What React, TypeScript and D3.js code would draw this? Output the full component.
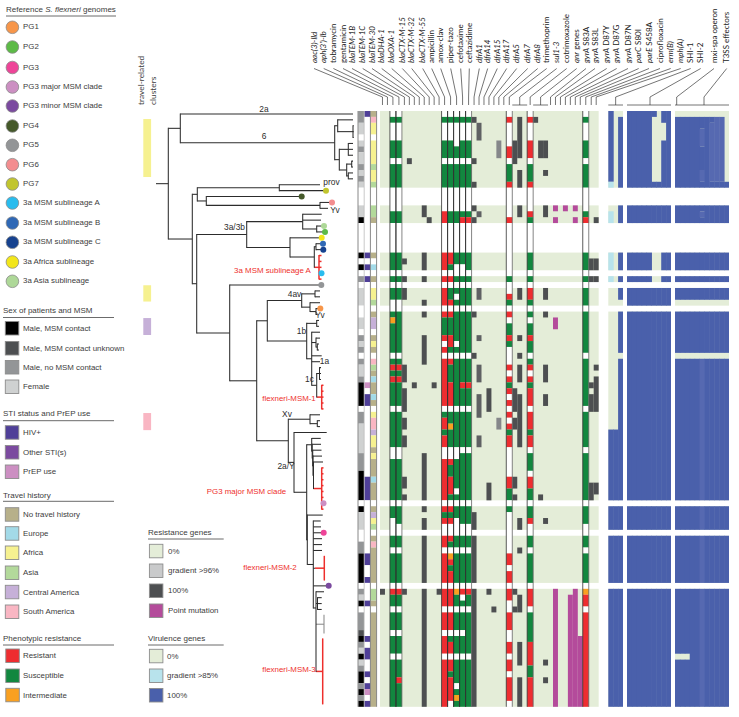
import React from "react";
import * as d3 from "d3";

// ---------- row structure of the heat map ----------
const rowCount = 101;
const panelRuns = [[0, 12], [16, 18], [24, 26], [28, 28], [30, 32], [34, 65], [67, 70], [72, 79], [81, 100]];

// ---------- patient metadata (code + first row of the run) ----------
const sexRuns = "m0 l2 w4 l5 m6 l7 m9 l10 m11 l12 w13 l16 k18 w19 k24 w25 k26 w27 m28 w29 l30 w33 l35 w37 m38 l39 m40 w41 m42 l43 m45 k46 w50 m51 l53 m58 k61 w66 k67 l68 w71 m73 k75 w80 m81 l82 k83 w84 m85 d88 k89 m90 l91 k92 l93 m94 k95 m97 k98 m99 k100";
const stiRuns = "b0 w1 b24 w25 b26 w27 b28 w29 p46 w47 b48 w50 b62 w66 b75 w77 b79 w80 b83 w84 b89 w90 b91 w93 b95 w96 b97 p98 w99 b100";
const travelRuns = "t0 s1 y2 w4 y5 a9 y10 a12 w13 a16 t18 w19 t24 w25 u26 w27 t28 w29 y30 a32 w33 t34 c35 w37 t38 y39 t40 w41 s42 a43 t44 u45 t46 u48 t49 w50 y51 s52 c54 y55 t57 y58 t59 u62 t63 w66 t67 c68 y69 a70 w71 t72 s73 t74 w80 a81 t83 w84 t85";

// ---------- phenotypes ----------
const tobramycin = "w0 g1 w2 g5 w8 g9 w13 g17 w19 g24 w27 g28 w29 g30 w32 g34 o35 g36 w41 g42 r43 g44 r45 g46 w50 g51 w57 g59 w66 g67 w69 g72 w74 g75 w80 r81 g82 w84 g85 w88 g89 w92 g93";
const gentamicin = "w0 g1 w2 g5 w8 g9 w13 g17 w19 g24 w27 g28 w29 g30 w32 g34 w41 g42 r43 g44 r45 g46 w50 g51 w57 g59 w66 g67 w70 g72 w74 g75 w80 r81 g82 w84 g85 w88 g89 w92 g93 r96 g97";
const ampicillin = "w0 g1 w2 g5 w8 g9 w13 r17 w19 r24 w27 r28 w29 r30 w33 r34 g35 r38 w39 r40 w41 r42 w50 g51 r52 g54 r55 w57 r59 w66 r67 g68 r69 w70 r72 w74 r75 w80 r81 w84 r85 w88 r89 w92 r93";
const amoxClav = "w0 g1 w2 g5 w8 g9 w13 g17 w19 r24 g26 w27 r28 w29 g30 r32 w33 r34 g35 r38 g40 w41 r42 g43 r46 w50 g51 o53 g54 w57 r59 g60 r62 g65 w66 r67 g68 r69 w70 r72 g73 w74 o75 r76 g77 r78 w80 r81 w84 r85 w88 g89 r90 w92 r93 g95 r96 w100";
const piperTazo = "w0 g1 w2 g6 w8 g9 w13 g17 w19 g24 w26 g28 w29 g30 w31 g32 w33 g34 w39 g40 w41 g42 w50 g51 w57 g59 w64 g65 w66 g67 w69 g72 w74 g75 w80 o81 g82 w84 g85 w88 g89 w92 g93 w97 g98 o99 g100";
const cefotaxime = "w0 g1 w2 g5 w8 g9 w13 g17 r18 w19 g24 w26 g28 w29 g30 w33 g34 w41 g42 r46 g47 w50 g51 w57 g58 w66 g67 w70 g72 w74 g75 w80 r81 w82 g83 w84 g85 w88 g89 w92 g93";
const ceftazidime = "w0 g1 w2 g5 w8 g9 w13 g17 r18 w19 g24 w27 g28 w29 g30 w33 g34 w41 g42 r46 g47 w50 g51 w57 g58 w66 g67 w70 g72 w74 g75 w80 r81 g82 w84 g85 w92 g93";
const trimethoprim = "w0 r1 w2 r6 w8 g9 r12 w13 r18 w19 g28 w29 r31 g32 w33 r34 w35 g36 r38 g39 w40 r43 w44 r45 g46 r47 w48 r49 w50 r51 w52 r53 g54 r55 w57 r62 g64 w66 g67 w68 r75 w77 r78 w80 r81 w83 r85 w88 r90 w92 r93 w95 r96 w100";
const cotrimoxazole = "w0 r1 w2 r5 w8 g9 r12 w13 r17 g18 w19 g24 w27 g28 w29 r30 g32 w33 g34 w35 g36 r38 g39 w41 g42 r43 w44 r45 g46 r47 w50 r51 g54 r55 w57 g58 w61 r62 g64 w66 g67 r69 w70 g72 w74 g75 w80 r81 w84 g85 r90 g94 r96";
const ciprofloxacin = "w0 g1 w2 g5 w8 g9 w13 g17 r18 w19 g24 w27 g28 w29 g30 w33 g34 w41 g42 w50 g51 w57 g58 w66 g67 w70 g72 w74 g75 w80 o81 r82 w84 r85";

// ---------- resistance determinants (rows with a hit) ----------
const aac = "81";
const blaTEM1B = "25 28 30-31 43-45 47-50 52-53 55-56 62-63 65 81";
const blaTEM1C = "8";
const blaTEM30 = "46";
const blaOXA1 = "16-17 24-26 28 32 34 38-42 58-65 67 69-70 72-100";
const blaCTXM15 = "18";
const blaCTXM32 = "46";
const blaCTXM55 = "81";
const dfrA1 = "1 8 12 16 18 34 41 68-70 72-100";
const dfrA14 = "2-4 17 30-31 38 43-45 48-51 55-56";
const dfrA17 = "47-50 63-65 81";
const dfrA5 = "84";
const dfrA7 = "5-7 52-53";
const sul1 = "5-8 47-50 52-53 62-63 65 81 84";
const sul2 = "1-7 10-12 16-17 30-31 38 41 43-45 48-56 69-70 74 82-84 90-93 96-100";
const qnr1 = "1";
const qnr2 = "5-7 65";
const qnr3 = "5-7 10 16-17 30-31 34 43-45 48-49 69 93 96";
const gyrAS83L = "16 18 35-36 81-100";
const gyrAD87G = "16";
const gyrAD87N = "82-100";
const parCS80I = "16 18 81-100";
const parES458A = "89-100";
const ermB = "25-26 28 46 48-50 63-65";
const mphA = "18 25-26 28 43 45-50 63-64";

type Col = { kind: "gene" | "pheno"; data: string; shade?: string };
const resistanceColumns: Col[] = [
  { kind: "gene", data: aac }, { kind: "gene", data: "" },
  { kind: "pheno", data: tobramycin }, { kind: "pheno", data: gentamicin },
  { kind: "gene", data: blaTEM1B }, { kind: "gene", data: blaTEM1C }, { kind: "gene", data: blaTEM30 }, { kind: "gene", data: "" },
  { kind: "gene", data: blaOXA1 }, { kind: "gene", data: blaCTXM15 }, { kind: "gene", data: blaCTXM32 }, { kind: "gene", data: blaCTXM55 },
  { kind: "pheno", data: ampicillin }, { kind: "pheno", data: amoxClav }, { kind: "pheno", data: piperTazo }, { kind: "pheno", data: cefotaxime }, { kind: "pheno", data: ceftazidime },
  { kind: "gene", data: dfrA1 }, { kind: "gene", data: dfrA14, shade: "M" }, { kind: "gene", data: "" }, { kind: "gene", data: dfrA17 },
  { kind: "gene", data: dfrA5 }, { kind: "gene", data: dfrA7, shade: "G" }, { kind: "gene", data: "" },
  { kind: "pheno", data: trimethoprim },
  { kind: "gene", data: sul1 }, { kind: "gene", data: sul2 }, { kind: "gene", data: "" },
  { kind: "pheno", data: cotrimoxazole },
  { kind: "gene", data: qnr1 }, { kind: "gene", data: qnr2 }, { kind: "gene", data: qnr3 },
  { kind: "gene", data: "" }, { kind: "gene", data: gyrAS83L, shade: "P" }, { kind: "gene", data: "" }, { kind: "gene", data: gyrAD87G, shade: "P" },
  { kind: "gene", data: gyrAD87N, shade: "P" }, { kind: "gene", data: parCS80I, shade: "P" }, { kind: "gene", data: parES458A, shade: "P" },
  { kind: "pheno", data: ciprofloxacin },
  { kind: "gene", data: ermB }, { kind: "gene", data: mphA },
];

// header labels: italic part, plain part, first and last column they point to
const resistanceLabels: [string, string, number, number][] = [
  ["aac(3)-lld", "", 0, 0], ["aph(3')-lb", "", 1, 1], ["", "tobramycin", 2, 2], ["", "gentamicin", 3, 3],
  ["blaTEM-1B", "", 4, 4], ["blaTEM-1C", "", 5, 5], ["blaTEM-30", "", 6, 6], ["blaDHA-1", "", 7, 7], ["blaOXA-1", "", 8, 8],
  ["blaCTX-M-15", "", 9, 9], ["blaCTX-M-32", "", 10, 10], ["blaCTX-M-55", "", 11, 11],
  ["", "ampicillin", 12, 12], ["", "amox-clav", 13, 13], ["", "piper-tazo", 14, 14], ["", "cefotaxime", 15, 15], ["", "ceftazidime", 16, 16],
  ["dfrA1", "", 17, 17], ["dfrA14", "", 18, 18], ["dfrA15", "", 19, 19], ["dfrA17", "", 20, 20], ["dfrA5", "", 21, 21], ["dfrA7", "", 22, 22], ["dfrA8", "", 23, 23],
  ["", "trimethoprim", 24, 24], ["sul1-3", "", 25, 27], ["", "cotrimoxazole", 28, 28], ["qnr", " genes", 29, 31],
  ["gyrA", " S83A", 32, 32], ["gyrA", " S83L", 33, 33], ["gyrA", " D87Y", 34, 34], ["gyrA", " D87G", 35, 35], ["gyrA", " D87N", 36, 36],
  ["parC", " S80I", 37, 37], ["parE", " S458A", 38, 38], ["", "ciprofloxacin", 39, 39], ["erm(B)", "", 40, 40], ["mph(A)", "", 41, 41],
];
const virulenceLabels = ["SHI-1", "SHI-2", "mxi-spa operon", "T3SS effectors"];

// ---------- virulence genes ----------
const shi1Columns = [
  "b0 l12 g16 l17 g19 l24 g27 l28 g29 b54",
  "g0 b54",
  "g0 b1 g32 b34 g41 b42",
];
const shi2Columns = [
  "b0", "b0", "b0", "b0", "b0",
  "b0 g1 b12 g24 b27 g28 b29",
  "g0 b12 g24 b27 g28 b29",
  "b0 g2 b5",
  "b0",
];
const t3ssColumns = [
  "g0 b1 g32 b34 g41 b42 g92 b93",
  "g0 b1 g32 b34 g41 b42 g92 b93",
  "g0 b1 g32 b34 g41 b42 g92 b93",
  "g0 b1 g32 b34 g41 b42",
  "g0 b1 g32 b34 g41 b42",
  "g0 b1 m3 b6 m10 b12 m17 b18 g32 b34 g41 m42",
  "g0 b1 g32 b34 g41 b42",
  "g0 b1 m2 b12 g32 b34 g41 b42",
  "g0 m1 b12 g32 b34 g41 b42",
  "g0 m1 b12 g32 b34 g41 b42",
  "g0 g1 b12 g32 b34 g41 b42",
];

// ---------- tree: v = divergence, row = heat map row of a tip ----------
type T = { v: number; row?: number; c?: T[]; dot?: string; red?: boolean; grey?: boolean; span?: number };
const L = (v: number, row: number, dot?: string): T => ({ v, row, dot });
const N = (v: number, c: T[], o: Partial<T> = {}): T => ({ v, c, ...o });
const tips = (v: number, first: number, last: number, dots: Record<number, string> = {}): T[] =>
  d3.range(first, last + 1).map((r) => L(v, r, dots[r]));

const treeData: T = N(0, [
  N(12.3, [
    N(24.3, [
      L(197, 0),
      N(178.7, [
        N(181.7, [L(197, 1), N(197, tips(197.6, 2, 4))]),
        N(183.3, [
          N(192.3, tips(197, 5, 7)),
          N(190.7, [N(195.7, tips(197, 8, 9)), N(192.3, tips(197, 10, 11))]),
        ]),
      ]),
    ]),
    N(36.3, [
      N(41.3, [
        N(123.3, [L(164, 12), L(170, 13, "PG7")]),
        N(50.3, [L(145.7, 14, "PG4"), N(164, [L(176, 15, "PG6"), L(172, 16)])]),
      ]),
      N(40.7, [
        N(90.7, [
          N(146.7, [L(165.7, 17), L(165, 18), N(160.7, [L(168, 19, "Asia"), L(169, 20, "PG2")])]),
          N(134, [
            L(165.7, 21, "Africa"),
            N(158.3, [
              N(160, [L(167, 22, "B"), L(167.3, 23, "C")]),
              N(163, tips(165.5, 24, 28, { 27: "A" }), { red: true }),
            ]),
          ]),
        ]),
        N(73.7, [
          L(165.3, 29, "PG5"),
          N(100.7, [
            N(111.3, [
              N(145.7, [
                N(159, tips(164, 30, 31)),
                N(154, [L(164, 32), N(160, [L(164.3, 33, "PG1"), L(161, 34)])]),
              ]),
              N(150.7, [
                N(160.7, tips(163, 35, 36)),
                N(155.7, [
                  L(164, 37),
                  N(160, [L(164, 38), N(161.3, tips(163, 39, 40))]),
                  L(165.7, 41),
                  L(164, 42),
                  N(160.7, [
                    N(163.5, tips(165, 43, 45)),
                    N(165.7, tips(167.5, 46, 50), { red: true }),
                  ]),
                ]),
              ]),
            ]),
            N(132.3, [
              N(154, [L(164, 51), N(161.3, tips(164, 52, 53))]),
              N(138, [
                L(170.7, 54),
                N(150.7, [
                  N(155.7, [
                    L(164.7, 55),
                    N(156.2, [
                      L(165, 56),
                      N(156.7, [
                        L(165.5, 57),
                        N(157, [
                          L(166, 58),
                          N(157.5, [L(167, 59), N(165.7, tips(167.5, 60, 67, { 66: "major" }), { red: true })]),
                        ]),
                      ]),
                    ]),
                  ]),
                  N(151.3, [
                    L(166.7, 68),
                    N(157.3, [
                      L(164.7, 69),
                      L(165, 70),
                      L(167.7, 71, "PG3"),
                      L(166, 72),
                      L(166, 73),
                      L(166, 74),
                      N(159, [N(168.3, tips(168.6, 75, 79), { red: true })]),
                      L(172.7, 80, "minor"),
                      N(160, [
                        L(168, 81),
                        N(161.5, tips(165.7, 82, 84)),
                        N(168, tips(168, 85, 88), { grey: true }),
                        N(166.7, tips(167, 89, 100), { red: true }),
                      ], { span: 3 }),
                    ]),
                  ]),
                ]),
              ]),
            ]),
          ]),
        ]),
      ]),
    ]),
  ]),
]);

// ---------- legends ----------
const genomeLegend: [string, string][] = [
  ["PG1", "PG1"], ["PG2", "PG2"], ["PG3", "PG3"], ["major", "PG3 major MSM clade"], ["minor", "PG3 minor MSM clade"],
  ["PG4", "PG4"], ["PG5", "PG5"], ["PG6", "PG6"], ["PG7", "PG7"], ["A", "3a MSM sublineage A"], ["B", "3a MSM sublineage B"],
  ["C", "3a MSM sublineage C"], ["Africa", "3a Africa sublineage"], ["Asia", "3a Asia sublineage"],
];
const genomeColors: Record<string, string> = {
  PG1: "#f7964a", PG2: "#5dba47", PG3: "#ee4498", major: "#cc8fc2", minor: "#7b4a9f", PG4: "#45592a", PG5: "#939597",
  PG6: "#f38d8f", PG7: "#c1c52e", A: "#29bcee", B: "#2f68b5", C: "#16428f", Africa: "#f2e61b", Asia: "#aed898",
};
const sexColors: Record<string, string> = { k: "#000000", d: "#4d4f51", m: "#939597", l: "#cfd1d1", w: "#ffffff" };
const stiColors: Record<string, string> = { b: "#4f3f98", p: "#cc8fc2", o: "#7b4a9f", w: "#ffffff" };
const travelColors: Record<string, string> = { t: "#b7b08a", u: "#a3dae8", y: "#f6f190", a: "#b3d99b", c: "#c6b0d8", s: "#f9b6c3", w: "#ffffff" };
const phenoColors: Record<string, string> = { r: "#ee2d30", g: "#12873f", o: "#f9a020", w: "#ffffff" };
const geneColors: Record<string, string> = { D: "#4d4f51", M: "#5f6163", G: "#85878a", P: "#b44b9b" };
const virColors: Record<string, string> = { b: "#4a60ab", m: "#5669b1", l: "#b8e3ec" };
const panelGreen = "#e4edd8";

const sexLegend: [string, string][] = [[sexColors.k, "Male, MSM contact"], [sexColors.d, "Male, MSM contact unknown"], [sexColors.m, "Male, no MSM contact"], [sexColors.l, "Female"]];
const stiLegend: [string, string][] = [[stiColors.b, "HIV+"], [stiColors.o, "Other STI(s)"], [stiColors.p, "PrEP use"]];
const travelLegend: [string, string][] = [[travelColors.t, "No travel history"], [travelColors.u, "Europe"], [travelColors.y, "Africa"], [travelColors.a, "Asia"], [travelColors.c, "Central America"], [travelColors.s, "South America"]];
const phenoLegend: [string, string][] = [[phenoColors.r, "Resistant"], [phenoColors.g, "Susceptible"], [phenoColors.o, "Intermediate"]];
const resGeneLegend: [string, string][] = [[panelGreen, "0%"], ["#c9cacb", "gradient >96%"], [geneColors.D, "100%"], [geneColors.P, "Point mutation"]];
const virGeneLegend: [string, string][] = [[panelGreen, "0%"], [virColors.l, "gradient >85%"], [virColors.b, "100%"]];

// travel-related clusters: [first row, last row, colour]
const clusterBands: [number, number, string][] = [
  [1.36, 11.19, travelColors.y], [29.54, 32.3, travelColors.y], [35.1, 37.97, travelColors.c], [51.2, 54.1, travelColors.s],
];

// ---------- layout ----------
const W = 739, H = 717;
const FONT = "'Liberation Sans', Arial, sans-serif";
const HEAD = "Lato, 'Open Sans', sans-serif";
const TEXT = "#3c3c3c";
const RED = "#ee2f2c";
const rowTop = 111, rowBottom = 706.8;
const y = d3.scaleLinear().domain([0, rowCount]).range([rowTop, rowBottom]);
const rh = (rowBottom - rowTop) / rowCount;
const phenoW = 6;
const geneW = (218.67 - 10 * phenoW) / 32;
const colX = [380];
resistanceColumns.forEach((c) => colX.push(colX[colX.length - 1] + (c.kind === "pheno" ? phenoW : geneW)));
const xTree = d3.scaleLinear().domain([0, 200]).range([156, 356]);

const labelX = [314, 323.7, 333.4, 343, 352, 362.7, 372, 381.7, 391.7, 402.3, 411.7, 422.7, 431.7, 440.7, 450.7, 460.7, 469.3, 479.3, 487.7, 497.3, 506.7, 516.7, 527.7, 537.7, 546.7, 556.7, 566.7, 576.7, 586, 595, 606.7, 616.7, 628, 638.7, 649, 660, 670.7, 680.7, 690.7, 700.7, 714, 726.7];
const labelBase = 63, diagTop = 68.5, tickTop = 97, tickBottom = 105;

const inPanel = (r: number) => panelRuns.some(([a, b]) => r >= a && r <= b);

function decode(s: string): string[] {
  const out: string[] = new Array(rowCount).fill("w");
  const toks = s.split(" ").filter(Boolean).map((t) => [t[0], +t.slice(1)] as [string, number]);
  toks.forEach(([code, start], i) => {
    const end = i + 1 < toks.length ? toks[i + 1][1] : rowCount;
    for (let r = start; r < end; r++) out[r] = code;
  });
  return out;
}
function hitsToCodes(s: string, code: string): string[] {
  const out: string[] = new Array(rowCount).fill("");
  s.split(" ").filter(Boolean).forEach((t) => {
    const [a, b] = t.split("-").map(Number);
    for (let r = a; r <= (b ?? a); r++) if (inPanel(r)) out[r] = code;
  });
  return out;
}
function runsOf(arr: string[]) {
  const res: { a: number; b: number; code: string }[] = [];
  arr.forEach((code, r) => {
    const last = res[res.length - 1];
    if (last && last.code === code && last.b === r - 1) last.b = r;
    else res.push({ a: r, b: r, code });
  });
  return res;
}

function Cells({ arr, x, w, colors }: { arr: string[]; x: number; w: number; colors: Record<string, string> }) {
  return (
    <>
      {runsOf(arr).filter((k) => colors[k.code]).map((k) => (
        <rect key={k.a} x={x} width={w} y={y(k.a)} height={y(k.b + 1) - y(k.a)} fill={colors[k.code]} />
      ))}
    </>
  );
}

const vGroups = [
  { cols: shi1Columns, x0: 608.3, x1: 623 },
  { cols: shi2Columns, x0: 627, x1: 671 },
  { cols: t3ssColumns, x0: 675, x1: 729 },
];

function Tree() {
  const root = d3.hierarchy<T>(treeData, (d) => d.c);
  const ys = new Map<any, number>();
  root.eachAfter((n) => {
    if (!n.children) ys.set(n, y(n.data.row as number) + rh / 2);
    else {
      const last = n.data.span ? n.data.span - 1 : n.children.length - 1;
      ys.set(n, (ys.get(n.children[0])! + ys.get(n.children[last])!) / 2);
    }
  });
  const colorOf = (n: any) => {
    for (let a = n; a; a = a.parent) {
      if (a.data.red) return RED;
      if (a.data.grey) return "#8a8a8a";
    }
    return "#2c2c2c";
  };
  const widthOf = (n: any) => (colorOf(n) === RED ? 1.5 : 1.05);
  const nodes = root.descendants();
  return (
    <g fill="none">
      {nodes.filter((n) => n.parent).map((n, i) => (
        <line key={"h" + i} x1={xTree(n.parent!.data.v)} x2={xTree(n.data.v)} y1={ys.get(n)} y2={ys.get(n)} stroke={colorOf(n)} strokeWidth={widthOf(n)} />
      ))}
      {nodes.filter((n) => n.children && n.children.length > 1).map((n, i) => (
        <line key={"v" + i} x1={xTree(n.data.v)} x2={xTree(n.data.v)} y1={ys.get(n.children![0])! - 0.5} y2={ys.get(n.children![n.children!.length - 1])! + 0.5} stroke={colorOf(n)} strokeWidth={widthOf(n)} />
      ))}
      {nodes.filter((n) => n.data.dot).map((n, i) => (
        <circle key={"c" + i} cx={xTree(n.data.v)} cy={ys.get(n)} r={3} fill={genomeColors[n.data.dot!]} />
      ))}
    </g>
  );
}

const treeLabels: [string, number, number][] = [
  ["2a", 264, 110], ["6", 264, 137], ["prov", 331.5, 183], ["Yv", 335, 211], ["3a/3b", 234.5, 228], ["4av", 294.5, 295],
  ["Yv", 320, 316], ["1b", 301.5, 332], ["1a", 324.5, 361.5], ["1c", 309.5, 380], ["Xv", 287, 415], ["2a/Y", 286, 467],
];
const redLabels: [string, number, number][] = [
  ["3a MSM sublineage A", 272.5, 271], ["flexneri-MSM-1", 289, 399], ["PG3 major MSM clade", 246.5, 492],
  ["flexneri-MSM-2", 270, 568], ["flexneri-MSM-3", 289, 670],
];

function LegendHeader({ x, x2, y: yy, lineY, children }: any) {
  return (
    <>
      <text x={x} y={yy} dominantBaseline="middle" fontSize={8} fill={TEXT} fontFamily={FONT}>{children}</text>
      <line x1={x} x2={x2} y1={lineY} y2={lineY} stroke="#5a5a5a" strokeWidth={0.9} />
    </>
  );
}
function SwatchList({ items, x, tx, tops }: { items: [string, string][]; x: number; tx: number; tops: number[] }) {
  return (
    <>
      {items.map(([c, t], i) => (
        <g key={t}>
          <rect x={x} y={tops[i]} width={13.5} height={13.5} fill={c} stroke="#8c8c8c" strokeWidth={0.9} />
          <text x={tx} y={tops[i] + 7.3} dominantBaseline="middle" fontSize={7.9} fill={TEXT} fontFamily={FONT}>{t}</text>
        </g>
      ))}
    </>
  );
}

const genomeYs = [27.3, 47, 67.5, 87, 106, 126, 145.3, 164.7, 184, 203, 223, 242.3, 262, 281.3];

export default function App() {
  const boundaries: { x: number; c: string }[] = [];
  resistanceColumns.forEach((c, i) => {
    if (c.kind === "pheno") {
      boundaries.push({ x: colX[i], c: "#333" });
      boundaries.push({ x: colX[i + 1], c: resistanceColumns[i + 1]?.kind === "pheno" ? "#222" : "#666" });
    }
  });
  const metaCols = [
    { data: sexRuns, x: 358.3, w: 5.8, colors: sexColors },
    { data: stiRuns, x: 364.3, w: 5.8, colors: stiColors },
    { data: travelRuns, x: 370.7, w: 5.6, colors: travelColors },
  ];
  const vTicks = [
    { x: (vGroups[0].x0 + vGroups[0].x1) / 2, a: vGroups[0].x0, b: vGroups[0].x1 },
    { x: 650, a: vGroups[1].x0, b: vGroups[1].x1 },
    { x: 676.7, a: 676.7, b: 676.7 },
    { x: 704, a: vGroups[2].x0, b: vGroups[2].x1 },
  ];
  return (
    <svg width={W} height={H} viewBox={`0 0 ${W} ${H}`} style={{ position: "absolute", left: 0, top: 0, display: "block", background: "#fff" }}>
      {/* Left legends */}
      <LegendHeader x={6} x2={116} y={10} lineY={16}>
        Reference <tspan fontStyle="italic">S. flexneri</tspan> genomes
      </LegendHeader>
      {genomeLegend.map(([k, t], i) => (
        <g key={k}>
          <circle cx={12.4} cy={genomeYs[i]} r={6.3} fill={genomeColors[k]} stroke="#8c8c8c" strokeWidth={0.8} />
          <text x={23} y={genomeYs[i]} dominantBaseline="middle" fontSize={7.9} fill={TEXT} fontFamily={FONT}>{t}</text>
        </g>
      ))}
      <LegendHeader x={3} x2={114} y={311} lineY={317.5}>Sex of patients and MSM</LegendHeader>
      <SwatchList items={sexLegend} x={5.3} tx={23} tops={[321.5, 341.5, 360.5, 380]} />
      <LegendHeader x={3} x2={114} y={414} lineY={420.7}>STI status and PrEP use</LegendHeader>
      <SwatchList items={stiLegend} x={5.3} tx={23} tops={[425.7, 445.5, 465]} />
      <LegendHeader x={3} x2={114} y={496} lineY={501.3}>Travel history</LegendHeader>
      <SwatchList items={travelLegend} x={5.3} tx={23} tops={[507.7, 526.7, 546, 566, 585.3, 605]} />
      <LegendHeader x={3} x2={114} y={639} lineY={645}>Phenotypic resistance</LegendHeader>
      <SwatchList items={phenoLegend} x={5.8} tx={23} tops={[649, 669, 688.3]} />
      <LegendHeader x={148} x2={223.7} y={533} lineY={539}>Resistance genes</LegendHeader>
      <SwatchList items={resGeneLegend} x={149.4} tx={168} tops={[544.3, 564, 584, 604]} />
      <LegendHeader x={148} x2={223.7} y={639} lineY={645}>Virulence genes</LegendHeader>
      <SwatchList items={virGeneLegend} x={149.4} tx={167} tops={[649.3, 669, 688.5]} />

      {/* Travel clusters */}
      <text transform="translate(144.3,105) rotate(-90)" fontSize={8.4} fill={TEXT} fontFamily={HEAD}>travel-related</text>
      <text transform="translate(155.5,105) rotate(-90)" fontSize={8.4} fill={TEXT} fontFamily={HEAD}>clusters</text>
      {clusterBands.map(([a, b, c], i) => (
        <rect key={i} x={143.3} width={7.8} y={y(a)} height={y(b) - y(a)} fill={c} />
      ))}

      <Tree />
      {treeLabels.map(([t, x, yy], i) => (
        <text key={i} x={x} y={yy} textAnchor="middle" dominantBaseline="middle" fontSize={8.4} fill="#2c2c2c" fontFamily={FONT}>{t}</text>
      ))}
      {redLabels.map(([t, x, yy], i) => (
        <text key={i} x={x} y={yy} textAnchor="middle" dominantBaseline="middle" fontSize={7.9} fill={RED} fontFamily={FONT}>{t}</text>
      ))}

      {/* Metadata columns */}
      {metaCols.map((m, i) => (
        <Cells key={i} arr={decode(m.data)} x={m.x} w={m.w} colors={m.colors} />
      ))}
      {[358, 364.2, 370.4, 376.6].map((x, i) => (
        <line key={x} x1={x} x2={x} y1={rowTop} y2={rowBottom} stroke={i === 1 ? "#bbb" : "#6a6a6a"} strokeWidth={0.8} />
      ))}

      {/* Resistance panel */}
      {panelRuns.map(([a, b]) => (
        <rect key={a} x={colX[0]} width={colX[colX.length - 1] - colX[0]} y={y(a)} height={y(b + 1) - y(a)} fill={panelGreen} />
      ))}
      {resistanceColumns.map((c, i) =>
        c.kind === "pheno" ? (
          <Cells key={i} arr={decode(c.data)} x={colX[i]} w={phenoW} colors={phenoColors} />
        ) : (
          <Cells key={i} arr={hitsToCodes(c.data, c.shade ?? "D")} x={colX[i]} w={geneW} colors={geneColors} />
        )
      )}
      {boundaries.map((b, i) => (
        <line key={i} x1={b.x} x2={b.x} y1={rowTop} y2={rowBottom} stroke={b.c} strokeWidth={0.8} />
      ))}

      {/* Virulence panel */}
      {vGroups.map((g, gi) => (
        <g key={gi}>
          {panelRuns.map(([a, b]) => (
            <rect key={a} x={g.x0} width={g.x1 - g.x0} y={y(a)} height={y(b + 1) - y(a)} fill={panelGreen} />
          ))}
          {g.cols.map((s, i) => {
            const w = (g.x1 - g.x0) / g.cols.length;
            const arr = decode(s).map((code, r) => (inPanel(r) ? code : "w"));
            const overlap = i < g.cols.length - 1 ? 0.5 : 0;
            return <Cells key={i} arr={arr} x={g.x0 + i * w} w={w + overlap} colors={virColors} />;
          })}
        </g>
      ))}

      {/* Header labels and connectors */}
      <g stroke="#2a2a2a" strokeWidth={0.65} fill="none">
        {resistanceLabels.map(([, , a, b], i) => {
          const cx = (colX[a] + colX[b + 1]) / 2;
          return (
            <g key={i}>
              <path d={`M${labelX[i]},${diagTop}L${cx},${tickTop}V${tickBottom}`} />
              {a !== b && <line x1={colX[a]} x2={colX[b + 1]} y1={tickBottom} y2={tickBottom} />}
            </g>
          );
        })}
        {vTicks.map((t, i) => (
          <g key={i}>
            <path d={`M${labelX[38 + i]},${diagTop}L${t.x},${tickTop}V${tickBottom}`} />
            {t.a !== t.b && <line x1={t.a} x2={t.b} y1={tickBottom} y2={tickBottom} />}
          </g>
        ))}
      </g>
      {resistanceLabels.map(([it, plain], i) => (
        <text key={i} transform={`translate(${labelX[i] + 2.7},${labelBase}) rotate(-90)`} fontSize={8} fill="#1a1a1a" fontFamily={HEAD}>
          {it && <tspan fontStyle="italic">{it}</tspan>}
          {plain}
        </text>
      ))}
      {virulenceLabels.map((t, i) => (
        <text key={t} transform={`translate(${labelX[38 + i] + 2.7},${labelBase}) rotate(-90)`} fontSize={8} fill="#1a1a1a" fontFamily={HEAD}>{t}</text>
      ))}
    </svg>
  );
}
